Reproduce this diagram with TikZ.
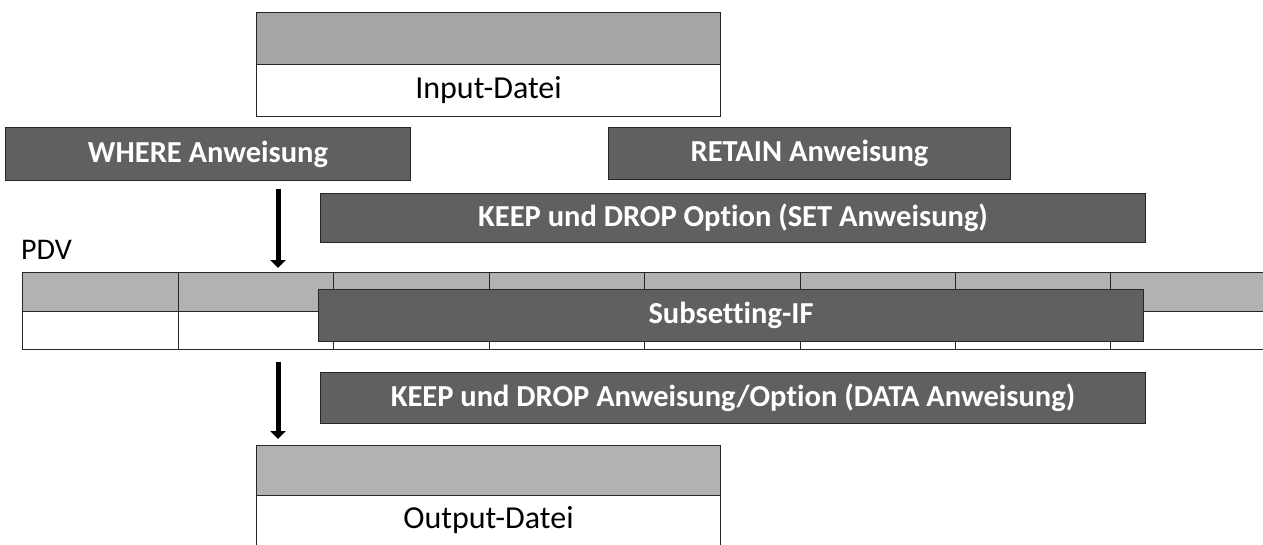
\documentclass[tikz,border=0pt]{standalone}
\usepackage{fontspec}
\setmainfont[Ligatures={NoCommon}]{Carlito}
\usetikzlibrary{arrows.meta,positioning}
\definecolor{dark}{HTML}{606060}
\definecolor{lightA}{HTML}{A6A6A6}
\definecolor{lightB}{HTML}{B2B2B2}
\tikzset{
  stmt/.style={draw=black!85,line width=1pt,fill=dark,text=white,font=\bfseries\fontsize{30.5}{34}\selectfont,inner sep=0pt,anchor=north west},
  graycell/.style={draw=black!85,line width=1pt,anchor=north west,inner sep=0pt},
  whitecell/.style={draw=black!85,line width=1pt,fill=white,anchor=north west,inner sep=0pt,font=\fontsize{32}{36}\selectfont},
  flow/.style={line width=5pt,-{Triangle[width=15pt,length=8pt]}}
}
\begin{document}
\begin{tikzpicture}[x=1pt,y=-1pt]
\useasboundingbox (0,0) rectangle (1263,544);
% Input file
\node[graycell,fill=lightA,minimum width=464pt,minimum height=52pt] (inhead) at (256,12) {};
\node[whitecell,minimum width=464pt,minimum height=52pt] (infile) at (256,64) {Input-Datei};
% statements
\node[stmt,minimum width=405pt,minimum height=53pt] (where) at (5,127) {WHERE Anweisung};
\node[stmt,minimum width=402pt,minimum height=52pt] (retain) at (608,127) {RETAIN Anweisung};
\node[stmt,minimum width=825pt,minimum height=49pt] (keepset) at (320,193) {KEEP und DROP Option (SET Anweisung)};
% PDV
\node[anchor=west,font=\fontsize{30}{34}\selectfont,inner sep=0pt] (pdv) at (21,250) {PDV};
\foreach \i/\x in {0/22,1/178,2/333,3/489,4/644,5/800,6/955,7/1110}{
  \node[graycell,fill=lightB,minimum width=155.5pt,minimum height=39pt] (g\i) at (\x,272) {};
  \node[graycell,fill=white,minimum width=155.5pt,minimum height=38pt] (w\i) at (\x,311) {};
}
\node[stmt,minimum width=825pt,minimum height=52pt] (subif) at (318,289) {Subsetting-IF};
% second statement
\node[stmt,minimum width=825pt,minimum height=51pt] (keepdata) at (320,372) {KEEP und DROP Anweisung/Option (DATA Anweisung)};
% Output file
\node[graycell,fill=lightB,minimum width=464pt,minimum height=50pt] (outhead) at (256,445) {};
\node[whitecell,minimum width=464pt,minimum height=50pt] (outfile) at (256,495) {Output-Datei};
% arrows
\coordinate (a1s) at (278,189);
\coordinate (a1e) at (278,268);
\coordinate (a2s) at (278,362);
\coordinate (a2e) at (278,439);
\draw[flow] (a1s) -- (a1e);
\draw[flow] (a2s) -- (a2e);
\end{tikzpicture}
\end{document}
